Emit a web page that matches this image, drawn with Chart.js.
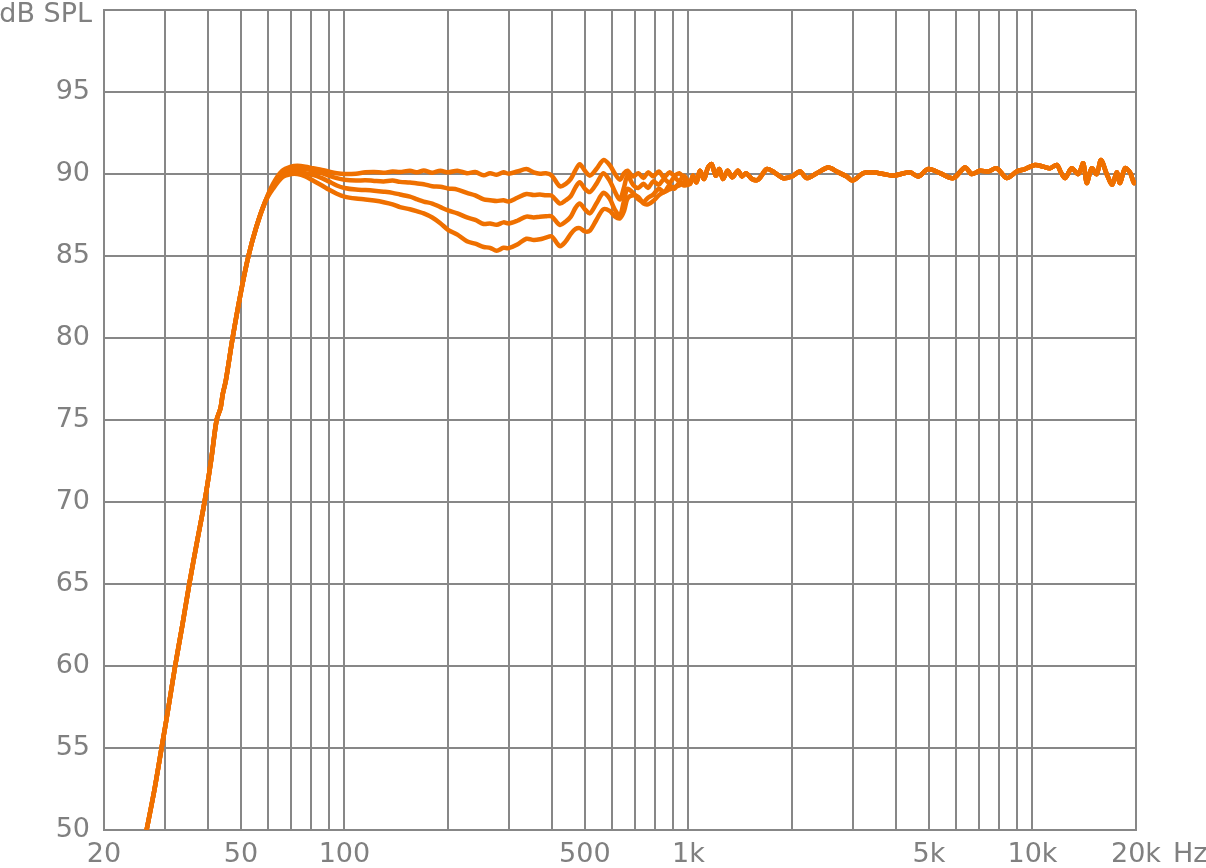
<!DOCTYPE html>
<html>
<head>
<meta charset="utf-8">
<script src="https://cdn.jsdelivr.net/npm/chart.js@4.4.1/dist/chart.umd.min.js"></script>
<style>
  html, body { margin: 0; padding: 0; background: #fff; }
  #wrap { width: 1206px; height: 868px; }
</style>
</head>
<body>
<div id="wrap"><canvas id="graph" width="1206" height="868"></canvas></div>
<script>
// Frequency axis (Hz): every grid line, and the ones that carry a label
var gridHz = [20, 30, 40, 50, 60, 70, 80, 90, 100, 200, 300, 400, 500, 600, 700, 800, 900,
              1000, 2000, 3000, 4000, 5000, 6000, 7000, 8000, 9000, 10000, 20000];
var labelHz = [20, 50, 100, 500, 1000, 5000, 10000, 20000];
var labelText = ["20", "50", "100", "500", "1k", "5k", "10k", "20k"];

// Low end roll-off, common to all four curves
var riseHz = [26.6, 28, 29.4, 30.8, 32.2, 33.8, 35.4, 37.3, 39.2, 41, 42.5, 43.6, 44.3, 45.2, 47.3, 50, 52.6, 55.5, 58.8];
var riseDb = [50, 52.4, 55, 57.5, 60, 62.5, 65, 67.6, 70, 72.6, 75, 75.7, 76.6, 77.4, 80, 82.8, 85, 86.8, 88.3];

// Middle band, where the curves split
var midHz = [62, 66, 70, 73, 77, 81, 86, 90, 95, 100, 108, 115, 122, 130, 138, 145, 155, 163, 170, 180, 190,
             200, 213, 227, 240, 254, 265, 277, 290, 300, 318, 338, 355, 370, 385, 400, 423, 440, 455, 470,
             483, 500, 517, 540, 566, 590, 612, 632, 650, 665, 690, 715, 740, 763, 790, 820, 850, 880, 910, 940, 970];
var midDbA = [89.4, 90.2, 90.45, 90.5, 90.45, 90.35, 90.25, 90.15, 90.05, 90.0, 90.02, 90.1, 90.12, 90.08, 90.15, 90.12,
              90.2, 90.1, 90.22, 90.08, 90.2, 90.1, 90.2, 90.05, 90.12, 89.92, 90.05, 89.95, 90.1, 90.02, 90.15, 90.3,
              90.1, 90.02, 90.05, 89.92, 89.25, 89.4, 89.7, 90.25, 90.6, 90.2, 89.9, 90.3, 90.85, 90.55, 90.0, 89.65,
              90.05, 90.2, 89.85, 90.05, 89.75, 90.1, 89.85, 90.15, 89.8, 90.1, 89.9, 90.05, 89.75];
var midDbB = [89.3, 90.0, 90.3, 90.35, 90.3, 90.2, 90.05, 89.9, 89.75, 89.65, 89.6, 89.62, 89.58, 89.55, 89.6, 89.52,
              89.48, 89.42, 89.38, 89.25, 89.22, 89.12, 89.05, 88.85, 88.7, 88.45, 88.4, 88.35, 88.4, 88.32, 88.55, 88.78,
              88.72, 88.75, 88.7, 88.68, 88.2, 88.4, 88.65, 89.2, 89.5, 89.1, 88.9, 89.4, 90.05, 89.6, 88.9, 88.45,
              89.2, 89.9, 89.35, 89.15, 89.4, 89.15, 89.55, 89.35, 89.7, 89.45, 89.8, 89.55, 89.9];
var midDbC = [89.2, 89.9, 90.1, 90.15, 90.05, 89.95, 89.75, 89.55, 89.3, 89.15, 89.05, 89.02, 88.98, 88.92, 88.85, 88.75,
              88.62, 88.45, 88.32, 88.2, 87.98, 87.78, 87.6, 87.35, 87.2, 86.95, 86.98, 86.9, 87.05, 86.98, 87.15, 87.4,
              87.35, 87.4, 87.42, 87.42, 86.9, 87.1, 87.4, 87.95, 88.2, 87.85, 87.6, 88.2, 88.85, 88.5, 87.8, 87.45,
              88.4, 89.1, 88.85, 88.45, 88.3, 88.55, 88.75, 89.1, 88.9, 89.3, 89.1, 89.45, 89.3];
var midDbD = [89.1, 89.8, 90.0, 90.0, 89.85, 89.6, 89.3, 89.05, 88.8, 88.62, 88.5, 88.45, 88.38, 88.28, 88.15, 87.98,
              87.85, 87.72, 87.6, 87.35, 87.0, 86.6, 86.3, 85.9, 85.75, 85.55, 85.5, 85.32, 85.5, 85.48, 85.7, 86.05,
              85.98, 86.02, 86.12, 86.2, 85.6, 85.9, 86.35, 86.65, 86.7, 86.5, 86.55, 87.2, 87.85, 87.75, 87.4, 87.3,
              87.75, 88.5, 88.7, 88.6, 88.2, 88.15, 88.35, 88.7, 88.9, 89.05, 89.2, 89.3, 89.5];

// Top end, common to all four curves
var hfHz = [1010, 1031, 1055, 1080, 1110, 1140, 1168, 1200, 1230, 1260, 1300, 1340, 1393, 1430, 1469, 1530, 1593,
            1689, 1762, 1883, 2000, 2110, 2207, 2360, 2551, 2697, 2885,
            3000, 3224, 3440, 3686, 3941, 4406, 4658, 4980, 5386, 5887, 6367, 6660, 7039, 7440, 7875, 8418, 9000,
            9512, 10170, 10753, 11246, 11764, 12100, 12436, 13005, 13592, 14053, 14378, 14867, 15373, 15821, 16436, 17063,
            17575, 17968, 18578, 19213, 19735, 20000];
var hfDb = [89.4, 89.9, 89.5, 90.2, 89.7, 90.4, 90.6, 89.9, 90.3, 89.7, 90.2, 89.8, 90.2, 89.85, 90.05, 89.7, 89.65,
            90.3, 90.15, 89.75, 89.85, 90.15, 89.75, 90.05, 90.4, 90.15, 89.85,
            89.6, 90.05, 90.1, 90.0, 89.9, 90.1, 89.85, 90.3, 90.05, 89.75, 90.4, 90.0, 90.2, 90.15, 90.35, 89.75, 90.15,
            90.3, 90.55, 90.45, 90.35, 90.55, 90.1, 89.75, 90.35, 90.0, 90.65, 89.45, 90.35, 90.0, 90.85, 90.0, 89.35,
            90.1, 89.45, 90.35, 90.1, 89.45, 89.6];

var gridColor = "#878787";
var textColor = "#808080";
var curveColor = "#ef7000";
var fontFamily = "'DejaVu Sans', sans-serif";

function toPoints(hz, db) {
    var pts = [];
    for (var i = 0; i < hz.length; i++) {
        pts.push({ x: hz[i], y: db[i] });
    }
    return pts;
}

function curve(midDb) {
    return {
        data: toPoints(riseHz, riseDb).concat(toPoints(midHz, midDb), toPoints(hfHz, hfDb)),
        borderColor: curveColor,
        borderWidth: 4.5,
        pointRadius: 0,
        tension: 0.3,
        fill: false
    };
}

// Unit texts: "dB SPL" above the level axis, "Hz" after the last frequency label
var unitLabels = {
    id: "unitLabels",
    afterDraw: function (chart) {
        var ctx = chart.ctx;
        var xs = chart.scales.x, ys = chart.scales.y;
        ctx.save();
        ctx.fillStyle = textColor;
        ctx.font = "27px " + fontFamily;
        ctx.textBaseline = "middle";
        ctx.textAlign = "right";
        ctx.fillText("dB SPL", ys.right - 12, ys.getPixelForValue(100) + 5);
        ctx.textAlign = "left";
        ctx.fillText("Hz", xs.getPixelForValue(20000) + 37, xs.top + 25);
        ctx.restore();
    }
};

var tickFont = { family: fontFamily, size: 27 };

new Chart(document.getElementById("graph").getContext("2d"), {
    type: "line",
    data: {
        datasets: [curve(midDbD), curve(midDbC), curve(midDbB), curve(midDbA)]
    },
    options: {
        responsive: false,
        animation: false,
        devicePixelRatio: 1,
        layout: { padding: { top: 10, right: 70, bottom: 0, left: 0 } },
        plugins: { legend: { display: false }, tooltip: { enabled: false } },
        scales: {
            x: {
                type: "logarithmic",
                min: 20,
                max: 20000,
                afterBuildTicks: function (scale) {
                    scale.ticks = gridHz.map(function (v) { return { value: v }; });
                },
                afterFit: function (scale) {
                    scale.height = 38;
                    scale.paddingLeft = 0;
                    scale.paddingRight = 0;
                },
                grid: { color: gridColor, lineWidth: 2, drawTicks: false },
                border: { color: gridColor, width: 2 },
                ticks: {
                    autoSkip: false,
                    maxRotation: 0,
                    minRotation: 0,
                    padding: 9,
                    color: textColor,
                    font: tickFont,
                    callback: function (value) {
                        var k = labelHz.indexOf(value);
                        return k >= 0 ? labelText[k] : "";
                    }
                }
            },
            y: {
                min: 50,
                max: 100,
                afterFit: function (scale) {
                    scale.width = 104;
                    scale.paddingTop = 0;
                    scale.paddingBottom = 0;
                },
                grid: { color: gridColor, lineWidth: 2, drawTicks: false },
                border: { color: gridColor, width: 2 },
                ticks: {
                    stepSize: 5,
                    padding: 14,
                    color: textColor,
                    font: tickFont,
                    callback: function (value) {
                        return value === 100 ? "" : value;
                    }
                }
            }
        }
    },
    plugins: [unitLabels]
});
</script>
</body>
</html>
